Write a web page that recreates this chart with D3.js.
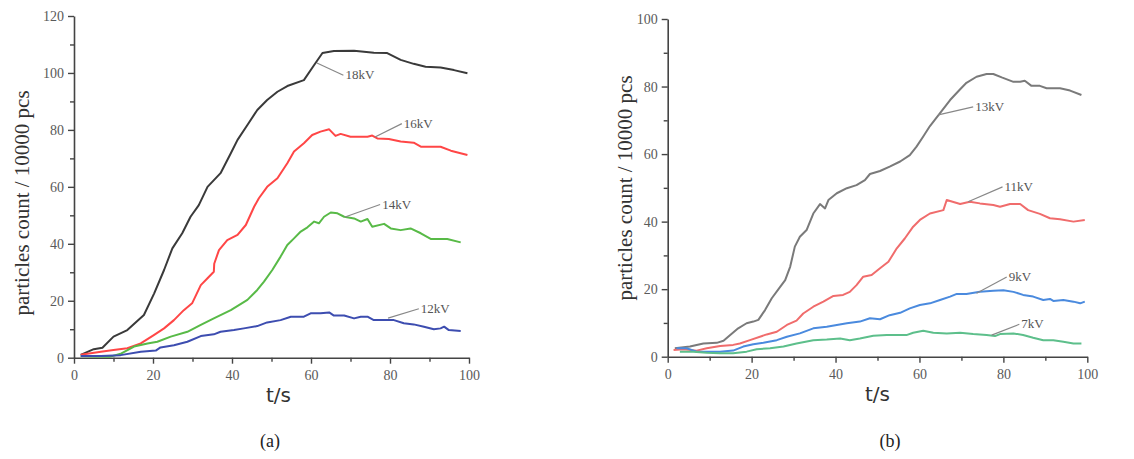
<!DOCTYPE html>
<html>
<head>
<meta charset="utf-8">
<script src="https://cdn.jsdelivr.net/npm/d3@7"></script>
<style>
body { margin: 0; background: #fff; }
</style>
</head>
<body>
<div id="chart"></div>
<script>
const width = 1134, height = 459;
const serif = "'Liberation Serif', 'DejaVu Serif', serif";

// tick labels
const xTicks = [0, 20, 40, 60, 80, 100];
const yTicksA = [0, 20, 40, 60, 80, 100, 120];
const yTicksB = [0, 20, 40, 60, 80, 100];

// panel (a) series: [t, count]
const kv18 = [[1.7,1],[5,3],[7.2,3.5],[10,7.4],[13.5,9.7],[17.7,15],[20.3,22.6],[22.8,30.8],[24.9,38.4],[27.4,43.7],[29.5,49.5],[31.6,53.6],[33.8,60],[37.1,64.8],[39.7,71.8],[41.4,76.5],[43.9,81.7],[46.4,87],[48.9,90.5],[51.5,93.4],[54,95.4],[58.2,97.5],[60.8,102.8],[62.9,107],[65.8,107.7],[70.9,107.8],[75.9,107.1],[79.3,107],[82.7,104.6],[86,103.2],[89,102.2],[92.8,101.9],[96.2,101],[99.6,99.9]];
const kv16 = [[1.7,1],[6.8,2.1],[10,2.7],[13.5,3.3],[16.9,5],[20.3,8],[22.8,10.3],[25.3,13.2],[27.8,16.7],[29.9,19.1],[32.1,25.5],[33.8,27.9],[35.4,30.2],[35.5,33],[36.7,37.8],[38.8,41.3],[41.4,43.1],[43.5,46.6],[45.6,53],[46.8,56],[48.9,60],[51.5,63],[54,68.3],[55.7,72.4],[58.2,75.3],[60.3,78.2],[62.4,79.4],[64.6,80.2],[66.2,77.9],[67.5,78.6],[70,77.6],[74.3,77.6],[75.5,78],[76.8,77],[79.7,76.8],[82.7,75.9],[86,75.5],[87.8,74.1],[92.8,74.1],[95.4,72.7],[99.6,71.2]];
const kv14 = [[1.7,0.6],[5,0.4],[9,0.3],[12,1.5],[15.2,3.9],[18.6,5],[21.1,5.6],[24.5,7.4],[28.7,9.1],[32.1,11.5],[35.4,13.8],[39.7,16.7],[43.9,20.3],[46.4,23.8],[48.1,26.7],[50.2,30.8],[52.3,35.5],[54,39.6],[55.7,41.9],[57.4,44.3],[59.1,45.8],[60.8,47.8],[62,47.2],[63.3,49.5],[65,51],[66.7,50.7],[68.4,49.5],[70.9,48.9],[72.6,47.8],[74.3,48.7],[75.5,46],[78.5,47],[80.2,45.4],[82.7,44.8],[85.2,45.4],[87.8,43.7],[90.3,41.7],[94.5,41.7],[97.9,40.5]];
const kv12 = [[1.7,0.6],[6.8,0.6],[11.8,0.9],[16.9,2.1],[20.7,2.5],[21.9,3.6],[25.3,4.4],[28.7,5.6],[32.1,7.6],[35.4,8.2],[37.1,9.1],[40.5,9.7],[43,10.3],[46.4,11.1],[48.9,12.4],[52.3,13.2],[54.9,14.4],[58.2,14.4],[59.9,15.6],[62.4,15.6],[64.6,15.9],[65.8,14.8],[68.4,14.8],[70.9,13.8],[72.6,14.4],[74.3,14.4],[75.9,13.2],[81,13.2],[83.5,12.1],[86,11.7],[88.6,10.9],[91.1,10],[92.8,10.3],[93.7,10.9],[94.9,9.7],[97.9,9.4]];

// panel (b) series: [t, count]
const kv13 = [[1.7,2.5],[5.3,3],[8.5,3.9],[11.7,4.1],[13.3,4.7],[14.9,6.4],[16.8,8.4],[18.8,9.9],[20.4,10.4],[21.6,10.9],[23.2,13.8],[24.8,17.3],[26.8,20.7],[28,22.7],[29.2,26.7],[30.3,32.6],[31.5,35.5],[33.1,37.5],[34.7,42.4],[36.3,45.2],[37.5,43.9],[38.3,46.4],[40.3,48.4],[42.7,49.9],[45,50.8],[47,52.3],[48.2,54.1],[50.6,55],[52.9,56.3],[55.4,57.8],[57.7,59.7],[59.3,62.2],[60.9,65.2],[62.5,68.3],[64.9,72.1],[67.3,76],[69.7,79.2],[71.2,81.1],[73.6,82.9],[76,83.7],[77.6,83.7],[79.6,82.7],[82.4,81.4],[84,81.4],[85.1,81.7],[86.7,80.2],[88.7,80.2],[90.3,79.5],[93.5,79.5],[95.9,78.8],[98.6,77.5]];
const kv11 = [[1.4,2],[3.7,2.2],[6.9,1.8],[9.3,2.5],[12.5,3.2],[15.6,3.5],[17.2,3.9],[19.6,4.9],[23.6,6.6],[26,7.4],[28.4,9.4],[30.7,10.7],[32.3,12.8],[34.7,14.8],[37.1,16.3],[39.5,18],[41.8,18.3],[43.4,19.2],[45,21.2],[46.6,23.7],[48.6,24.2],[50.6,26.2],[52.6,28.1],[54.6,32.1],[56.5,35],[58.5,38.5],[60.1,40.5],[62.5,42.4],[65.7,43.4],[66.5,46.4],[69.7,45.2],[72,45.9],[74.4,45.4],[77.6,44.9],[79.2,44.4],[81.6,45.2],[84,45.2],[85.9,43.4],[88.7,42.3],[91.1,41],[93.5,40.7],[96.7,40],[99.4,40.5]];
const kv9 = [[2.1,2.5],[4.5,2.5],[6.9,1.5],[9.3,1.5],[12.5,1.5],[15.6,1.8],[18,3],[20.4,3.7],[22.8,4.1],[26,4.9],[28.4,5.9],[31.5,6.9],[34.7,8.4],[37.9,8.9],[40.3,9.4],[42.7,9.9],[45.8,10.4],[48.2,11.4],[50.6,11.1],[52.9,12.3],[55.4,13],[57.7,14.3],[60.1,15.3],[62.5,15.8],[64.9,16.8],[67.3,17.8],[68.9,18.6],[71.2,18.6],[74.4,19.2],[77.6,19.5],[80,19.7],[82.4,19.2],[84.7,18.3],[87.1,17.8],[89.5,16.8],[91.1,17.1],[91.9,16.5],[94.3,16.8],[96.7,16.3],[98.3,15.8],[99.4,16.3]];
const kv7 = [[2.9,1.5],[6.1,1.5],[9.3,1.2],[12.5,1],[15.6,1],[18.8,1.5],[21.2,2.2],[24.4,2.5],[27.6,3],[30.7,3.9],[34.7,4.9],[37.9,5.1],[41.1,5.4],[43.4,4.9],[45.8,5.4],[49,6.2],[52.2,6.4],[56.9,6.4],[58.5,7.1],[60.9,7.7],[63.3,7.1],[66.5,6.9],[69.7,7.1],[72.8,6.7],[76,6.4],[78,6.1],[79.2,6.7],[82.4,6.9],[84.7,6.4],[87.1,5.6],[89.5,4.9],[91.9,4.9],[94.3,4.4],[96.7,3.9],[98.6,3.9]];

// label callouts: name, point on curve [t,v], text anchor [t,v]
const labelsA = [
    { name: "18kV", from: [61.5, 103.5], to: [68.2, 99.2] },
    { name: "16kV", from: [76.2, 77.5], to: [83.0, 82.2] },
    { name: "14kV", from: [68.6, 49.4], to: [77.5, 53.8] },
    { name: "12kV", from: [79.5, 13.9], to: [87.3, 17.2] }
];
const labelsB = [
    { name: "13kV", from: [64.5, 71.6], to: [72.8, 74.0] },
    { name: "11kV", from: [71.6, 45.9], to: [79.8, 50.3] },
    { name: "9kV",  from: [73.6, 18.8], to: [80.8, 23.6] },
    { name: "7kV",  from: [77.2, 6.4],  to: [83.8, 9.6] }
];

const svg = d3.select("#chart")
    .append("svg")
    .attr("width", width)
    .attr("height", height);

function drawPanel(p) {
    const x = d3.scaleLinear().domain([0, 100]).range([p.left, p.right]);
    const y = d3.scaleLinear().domain([0, p.yMax]).range([p.bottom, p.top]);
    const g = svg.append("g");

    // minor ticks
    g.append("g")
        .attr("transform", `translate(0,${p.bottom})`)
        .call(d3.axisBottom(x).tickValues(d3.range(10, 100, 20)).tickSize(4).tickFormat(""))
        .call(a => a.select(".domain").remove());
    g.append("g")
        .attr("transform", `translate(${p.left},0)`)
        .call(d3.axisLeft(y).tickValues(d3.range(10, p.yMax, 20)).tickSize(4).tickFormat(""))
        .call(a => a.select(".domain").remove());

    // major axes
    g.append("g")
        .attr("transform", `translate(0,${p.bottom})`)
        .call(d3.axisBottom(x).tickValues(xTicks).tickSize(6).tickSizeOuter(0).tickPadding(6));
    g.append("g")
        .attr("transform", `translate(${p.left},0)`)
        .call(d3.axisLeft(y).tickValues(p.yTicks).tickSize(6).tickSizeOuter(0).tickPadding(4));

    g.selectAll(".domain").attr("stroke", "#444").attr("stroke-width", 1.6);
    g.selectAll(".tick line").attr("stroke", "#444").attr("stroke-width", 1.4);
    g.selectAll(".tick text")
        .attr("font-family", serif)
        .attr("font-size", 14)
        .attr("fill", "#5a5a5a");

    const line = d3.line().x(d => x(d[0])).y(d => y(d[1]));
    p.series.forEach(s => {
        g.append("path")
            .datum(s.data)
            .attr("fill", "none")
            .attr("stroke", s.color)
            .attr("stroke-width", 2)
            .attr("stroke-linejoin", "round")
            .attr("d", line);
    });

    // callouts
    p.labels.forEach(l => {
        g.append("line")
            .attr("x1", x(l.from[0])).attr("y1", y(l.from[1]))
            .attr("x2", x(l.to[0])).attr("y2", y(l.to[1]))
            .attr("stroke", "#888").attr("stroke-width", 1.2);
        g.append("text")
            .attr("x", x(l.to[0]) + 2)
            .attr("y", y(l.to[1]) + 4)
            .attr("font-family", serif)
            .attr("font-size", 13)
            .attr("fill", "#555")
            .text(l.name);
    });

    // axis titles
    g.append("text")
        .attr("x", (p.left + p.right) / 2 + p.tsShift)
        .attr("y", p.bottom + 44)
        .attr("text-anchor", "middle")
        .attr("font-family", "'DejaVu Sans', sans-serif")
        .attr("font-size", 20)
        .attr("fill", "#333")
        .text("t/s");
    g.append("text")
        .attr("transform", `translate(${p.titleX},${p.titleY}) rotate(-90)`)
        .attr("text-anchor", "middle")
        .attr("dy", "0.35em")
        .attr("font-family", serif)
        .attr("font-size", 21)
        .attr("fill", "#333")
        .text("particles count / 10000 pcs");

    g.append("text")
        .attr("x", p.capX)
        .attr("y", 447)
        .attr("text-anchor", "middle")
        .attr("font-family", serif)
        .attr("font-size", 18)
        .attr("fill", "#222")
        .text(p.caption);
}

drawPanel({
    left: 74, right: 469, top: 16, bottom: 357.7, yMax: 120, yTicks: yTicksA,
    series: [
        { data: kv18, color: "#3a3a3a" },
        { data: kv16, color: "#ff4646" },
        { data: kv14, color: "#58ba47" },
        { data: kv12, color: "#3d4db0" }
    ],
    labels: labelsA, tsShift: 7, titleX: 22, titleY: 203, capX: 270, caption: "(a)"
});

drawPanel({
    left: 667.7, right: 1087.3, top: 19, bottom: 356.7, yMax: 100, yTicks: yTicksB,
    series: [
        { data: kv13, color: "#7a7a7a" },
        { data: kv11, color: "#f06c6c" },
        { data: kv9, color: "#4a8ade" },
        { data: kv7, color: "#5dbf8b" }
    ],
    labels: labelsB, tsShift: 0, titleX: 625, titleY: 188, capX: 890, caption: "(b)"
});
</script>
</body>
</html>
